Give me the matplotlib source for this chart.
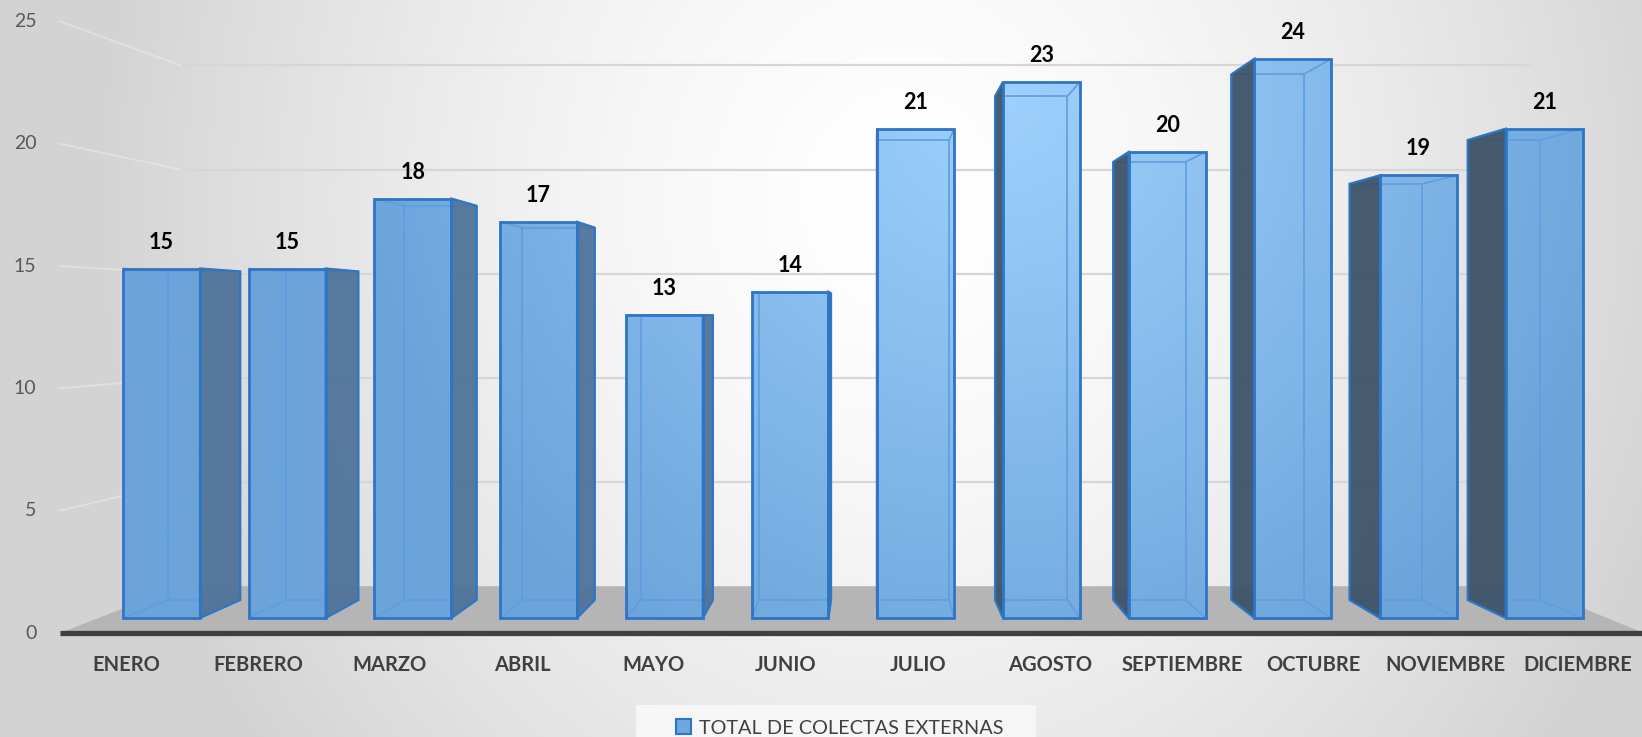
import numpy as np
import matplotlib
matplotlib.use("Agg")
import matplotlib.pyplot as plt
from matplotlib.patches import Polygon, Patch, Rectangle
from matplotlib.path import Path
from matplotlib.collections import LineCollection


MONTHS = ["ENERO", "FEBRERO", "MARZO", "ABRIL", "MAYO", "JUNIO", "JULIO",
          "AGOSTO", "SEPTIEMBRE", "OCTUBRE", "NOVIEMBRE", "DICIEMBRE"]
COLECTAS = [15, 15, 18, 17, 13, 14, 21, 23, 20, 24, 19, 21]
Y_TICKS = [0, 5, 10, 15, 20, 25]
SERIES_LABEL = "TOTAL DE COLECTAS EXTERNAS"

# canvas layout (pixels) and fake 3d perspective
W_PX, H_PX = 1642, 737
X0_PX, Y0_PX = 161.5, 618
PX_PER_CAT, PX_PER_UNIT = 125.7, 23.3
VP_X, VP_Y = 5.65, 12.88
S_FRONT, S_BAR_BACK, S_WALL = 1.05, 0.94, 0.894
HALF_W = 0.306
X_MIN, X_MAX = -0.5, 11.5

FONT = ["Lato", "DejaVu Sans"]
EDGE_BLUE = "#2e75c5"
INNER_BLUE = "#5e9edf"
FLOOR = "#b5b5b5"
TEXT_GREY = "#404040"


def project(x, y, s):
    return VP_X + s * (x - VP_X), VP_Y + s * (y - VP_Y)


def limits():
    xlim = (-X0_PX / PX_PER_CAT, (W_PX - X0_PX) / PX_PER_CAT)
    ylim = (-(H_PX - Y0_PX) / PX_PER_UNIT, Y0_PX / PX_PER_UNIT)
    return xlim, ylim


def draw_background(ax, extent):
    yy, xx = np.mgrid[0:H_PX:2, 0:W_PX:2]
    d = np.hypot((xx - 900) / 800, (yy - 200) / 900)
    g = 1 - 0.17 * np.clip(d, 0, 1) ** 1.5
    ax.imshow(np.dstack([g, g, g]), extent=extent, origin="upper",
              aspect="auto", zorder=0, interpolation="bilinear")


def draw_walls(ax):
    for v in Y_TICKS[1:]:
        x1, y1 = project(X_MIN, v, S_WALL)
        x2, y2 = project(X_MAX, v, S_WALL)
        x3, y3 = project(X_MIN, v, S_FRONT)
        ax.plot([x1, x2], [y1, y2], color="#d6d6d6", lw=1.6, zorder=1)
        ax.plot([x3, x1], [y3, y1], color="#ececec", lw=1.4, alpha=0.55,
                zorder=1)

    floor = [project(X_MIN, 0, S_WALL), project(X_MAX, 0, S_WALL),
             project(X_MAX, 0, S_FRONT), project(X_MIN, 0, S_FRONT)]
    ax.add_patch(Polygon(floor, closed=True, facecolor=FLOOR,
                         edgecolor="none", zorder=2))
    (xa, ya), (xb, yb) = project(X_MIN, 0, S_FRONT), project(X_MAX, 0, S_FRONT)
    ax.plot([xa, xb], [ya, yb], color=TEXT_GREY, lw=3.8, zorder=2.5,
            solid_capstyle="butt")


def draw_bars(ax, extent):
    fronts, hidden = [], []
    for i, v in enumerate(COLECTAS):
        l, r = i - HALF_W, i + HALF_W
        front = [(l, 0), (r, 0), (r, v), (l, v)]
        back = [project(x, y, S_BAR_BACK) for x, y in front]
        fronts.append(Polygon(front, closed=True).get_path())
        for k in range(4):
            hidden.append([back[k], back[(k + 1) % 4]])
            hidden.append([front[k], back[k]])

        side_x = r if i < VP_X else l
        side = [(side_x, 0), (side_x, v),
                project(side_x, v, S_BAR_BACK), project(side_x, 0, S_BAR_BACK)]
        side_col = "#50739a" if i < VP_X else "#3d5369"
        ax.add_patch(Polygon(side, closed=True, facecolor=side_col, alpha=0.95,
                             edgecolor=EDGE_BLUE, lw=1.6, zorder=5))
        ax.add_patch(Polygon(front, closed=True, facecolor="none",
                             edgecolor=EDGE_BLUE, lw=2.0, zorder=6))
        ax.annotate(str(v), (i, v), xytext=(0, 19), textcoords="offset points",
                    ha="center", va="center", fontsize=15.5, fontweight="bold",
                    color="black", family=FONT, zorder=7)

    # front faces: gradient fill, lighter where the backdrop is white
    yy, xx = np.mgrid[0:H_PX:2, 0:W_PX:2]
    w = np.clip(1 - np.hypot(xx - 1000, yy - 100) / 650, 0, 1)[..., None]
    dark = np.array([108, 164, 218]) / 255
    light = np.array([158, 209, 252]) / 255
    im = ax.imshow(dark + (light - dark) * w, extent=extent, origin="upper",
                   aspect="auto", zorder=3, interpolation="bilinear")
    im.set_clip_path(Path.make_compound_path(*fronts), ax.transData)

    ax.add_collection(LineCollection(hidden, colors=INNER_BLUE, linewidths=1.2,
                                     zorder=4))


def draw_labels(ax):
    for v in Y_TICKS:
        x, y = project(X_MIN, v, S_FRONT)
        ax.annotate(str(v), (x, y), xytext=(-17, 0), textcoords="offset points",
                    ha="right", va="center", fontsize=14, color="#595959",
                    family=FONT)
    for i, name in enumerate(MONTHS):
        x, y = project(i, 0, S_FRONT)
        ax.annotate(name, (x, y), xytext=(0, -23), textcoords="offset points",
                    ha="center", va="center", fontsize=14.5, fontweight="bold",
                    color=TEXT_GREY, family=FONT)


def draw_legend(fig):
    fig.patches.append(Rectangle((636 / W_PX, 0), 400 / W_PX, 32 / H_PX,
                                 transform=fig.transFigure, facecolor="#f6f6f6",
                                 edgecolor="none", zorder=0))
    handle = Patch(facecolor="#6fa8dc", edgecolor=EDGE_BLUE, linewidth=1.5)
    fig.legend([handle], [SERIES_LABEL], loc="center",
               bbox_to_anchor=(840 / W_PX, 9 / H_PX), frameon=False,
               handlelength=0.75, handleheight=0.75, handletextpad=0.4,
               prop={"family": FONT, "size": 14.3}, labelcolor=TEXT_GREY)


def main():
    fig = plt.figure(figsize=(W_PX / 100, H_PX / 100), dpi=100)
    ax = fig.add_axes([0, 0, 1, 1])
    xlim, ylim = limits()
    extent = (xlim[0], xlim[1], ylim[0], ylim[1])
    ax.set_xlim(xlim)
    ax.set_ylim(ylim)
    ax.axis("off")

    draw_background(ax, extent)
    draw_walls(ax)
    draw_bars(ax, extent)
    draw_labels(ax)
    draw_legend(fig)

    fig.savefig("out.png", dpi=100)
    plt.close(fig)


if __name__ == "__main__":
    main()
